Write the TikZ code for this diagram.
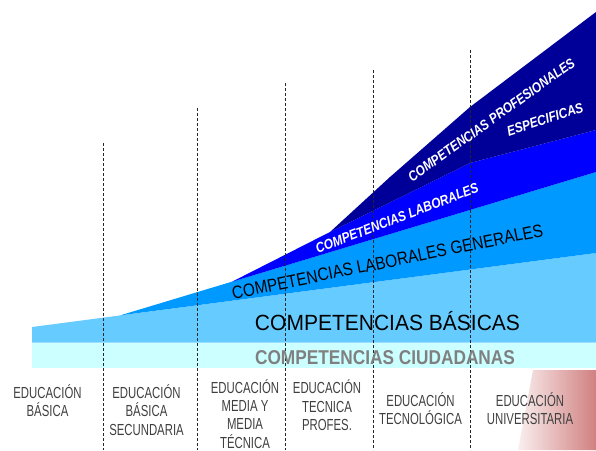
\documentclass[tikz,border=0pt]{standalone}
\usepackage{fontspec}
\setmainfont{Liberation Sans}
\newfontfamily\labfont[FakeStretch=0.71]{Liberation Sans}
\newfontfamily\basfont[FakeStretch=0.955]{Liberation Sans}
\newfontfamily\genfont[FakeStretch=0.854]{Liberation Sans}
\newfontfamily\ciufont[FakeStretch=0.863]{Liberation Sans}
\newfontfamily\whfont[FakeStretch=0.85]{Liberation Sans}
\definecolor{ciudcol}{HTML}{CCFFFF}
\definecolor{basiccol}{HTML}{66CCFF}
\definecolor{gencol}{HTML}{0099FF}
\definecolor{labcol}{HTML}{0000FF}
\definecolor{profcol}{HTML}{000099}
\definecolor{rosecol}{HTML}{D08080}
\definecolor{rosepale}{HTML}{FAEEEE}
\definecolor{labgray}{HTML}{404040}
\definecolor{ciutext}{HTML}{808080}
\tikzset{
  dashline/.style={draw=black!85, line width=0.6pt, dash pattern=on 3pt off 2pt},
  edulabel/.style={inner sep=0pt, anchor=base, text=labgray, font=\labfont\fontsize{16}{18}\selectfont},
  whitelabel/.style={inner sep=0pt, anchor=base, text=white, font=\whfont\bfseries\itshape\fontsize{14}{15}\selectfont},
}
\begin{document}
\begin{tikzpicture}[x=1pt,y=-1pt]
\useasboundingbox (0,0) rectangle (596,450);
% rose gradient
\shade[left color=rosepale, right color=rosecol] (533,370) -- (596,370) -- (596,450) -- (518,450) -- cycle;
% bands
\fill[ciudcol] (32,342.5) rectangle (596,368);
\fill[basiccol] (32,327) -- (596,253) -- (596,342.5) -- (32,342.5) -- cycle;
\fill[gencol] (120,315.4) -- (596,172) -- (596,253) -- cycle;
\fill[labcol] (232,281.7) -- (330,232) -- (470,163) -- (596,130) -- (596,172) -- cycle;
\fill[profcol] (330,232) -- (390,177) -- (470,107) -- (596,12) -- (596,130) -- (470,163) -- cycle;
% dashed separators
\coordinate (d1t) at (103,143); \coordinate (d1b) at (103,450);
\coordinate (d2t) at (197,108); \coordinate (d2b) at (197,450);
\coordinate (d3t) at (285,83);  \coordinate (d3b) at (285,450);
\coordinate (d4t) at (373,70);  \coordinate (d4b) at (373,450);
\coordinate (d5t) at (470,50);  \coordinate (d5b) at (470,450);
\draw[dashline] (d1t) -- (d1b);
\draw[dashline] (d2t) -- (d2b);
\draw[dashline] (d3t) -- (d3b);
\draw[dashline] (d4t) -- (d4b);
\draw[dashline] (d5t) -- (d5b);
% band texts
\node[inner sep=0pt, anchor=base, font=\basfont\fontsize{22}{24}\selectfont] (basicas) at (387.5,330.7) {COMPETENCIAS BÁSICAS};
\node[inner sep=0pt, anchor=base, text=ciutext, font=\ciufont\bfseries\fontsize{20}{22}\selectfont] (ciudadanas) at (385,364.3) {COMPETENCIAS CIUDADANAS};
\node[inner sep=0pt, anchor=base, rotate=11.5, font=\genfont\fontsize{18}{20}\selectfont] (generales) at (388.7,267.7) {COMPETENCIAS LABORALES GENERALES};
\node[whitelabel, rotate=21] (laborales) at (398.7,222.7) {COMPETENCIAS LABORALES};
\node[whitelabel, rotate=35.5] (profesionales) at (494.2,123.8) {COMPETENCIAS PROFESIONALES};
\node[whitelabel, rotate=18] (especificas) at (546.5,124) {ESPECIFICAS};
% bottom labels
\node[edulabel] (e1a) at (47.5,398.2) {EDUCACIÓN};
\node[edulabel] (e1b) at (47.5,416.7) {BÁSICA};
\node[edulabel] (e2a) at (146.5,398.2) {EDUCACIÓN};
\node[edulabel] (e2b) at (146.5,416.7) {BÁSICA};
\node[edulabel] (e2c) at (146.5,435.2) {SECUNDARIA};
\node[edulabel] (e3a) at (245,393.3) {EDUCACIÓN};
\node[edulabel] (e3b) at (245,411.6) {MEDIA Y};
\node[edulabel] (e3c) at (245,429.9) {MEDIA};
\node[edulabel] (e3d) at (245,448.2) {TÉCNICA};
\node[edulabel] (e4a) at (327,393.7) {EDUCACIÓN};
\node[edulabel] (e4b) at (327,412.3) {TECNICA};
\node[edulabel] (e4c) at (327,430.9) {PROFES.};
\node[edulabel] (e5a) at (420.5,406.2) {EDUCACIÓN};
\node[edulabel] (e5b) at (420.5,424.5) {TECNOLÓGICA};
\node[edulabel] (e6a) at (530,406.2) {EDUCACIÓN};
\node[edulabel] (e6b) at (530,424.5) {UNIVERSITARIA};
\end{tikzpicture}
\end{document}
